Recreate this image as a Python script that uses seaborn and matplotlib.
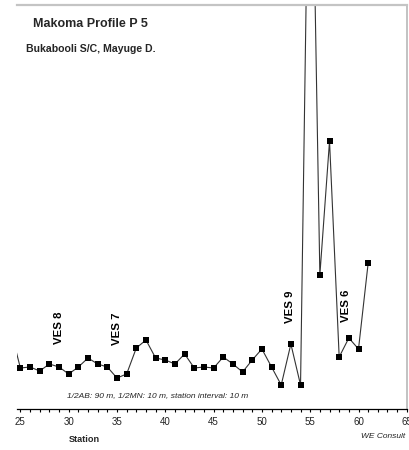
import numpy as np
import pandas as pd
import seaborn as sns
import matplotlib.pyplot as plt
from matplotlib.ticker import MultipleLocator

# apparent resistivity (arbitrary units)
stations = list(range(24, 62))
resistivity = [79, 41, 42, 38, 45, 42, 35, 42, 51, 45,
               42, 31, 35, 61, 69, 51, 49, 45, 55, 41,
               42, 41, 52, 45, 37, 49, 60, 42, 24, 65,
               24, 690, 134, 268, 52, 71, 60, 146]

ves_names = ['VES 8', 'VES 7', 'VES 9', 'VES 6']
ves_stations = [29.0, 35.0, 52.9, 58.7]

title = 'Makoma Profile P 5'
subtitle = 'Bukabooli S/C, Mayuge D.'
note = '1/2AB: 90 m, 1/2MN: 10 m, station interval: 10 m'

df = pd.DataFrame({'station': stations, 'rho': resistivity})

sns.set_style('white')
plt.rcParams['font.family'] = ['Liberation Sans', 'DejaVu Sans']

fig = plt.figure(figsize=(4.09, 4.5), dpi=100)
ax = fig.add_axes([17 / 409, 1 - 409 / 450, 390 / 409, 404 / 450])

sns.lineplot(data=df, x='station', y='rho', ax=ax, color='#333333', lw=0.8,
             marker='s', markersize=4.2, markerfacecolor='black',
             markeredgecolor='black', markeredgewidth=0)

ax.set_xlim(24.65, 65.02)
ax.set_ylim(0, 404)
ax.xaxis.set_major_locator(MultipleLocator(5))
ax.xaxis.set_minor_locator(MultipleLocator(1))
ax.set_yticks([])
ax.tick_params(axis='x', which='both', direction='out', bottom=True,
               length=2.5, width=0.8, color='black', labelsize=7,
               labelcolor='#222222', pad=3)
ax.set_xlabel('')
ax.set_ylabel('')

ax.spines['left'].set_visible(False)
ax.spines['bottom'].set_color('black')
ax.spines['bottom'].set_linewidth(0.9)
ax.spines['top'].set_color('#c4c4c4')
ax.spines['top'].set_linewidth(1.6)
ax.spines['right'].set_color('#b8b8b8')
ax.spines['right'].set_linewidth(1.2)

# VES markers along the profile
ves_bottoms = [65, 64, 86, 87]
for name, st, yb in zip(ves_names, ves_stations, ves_bottoms):
    ax.text(st, yb, name, rotation=90, ha='center', va='bottom',
            fontsize=8.2, fontweight='bold', color='black')

fig.text(33 / 409, 1 - 24 / 450, title, fontsize=9, fontweight='bold',
         ha='left', va='center')
fig.text(26 / 409, 1 - 49 / 450, subtitle, fontsize=7.6, fontweight='bold',
         ha='left', va='center')
fig.text(67 / 409, 1 - 396 / 450, note, fontsize=6, style='italic',
         ha='left', va='center', color='#222222')
fig.text(84 / 409, 1 - 440 / 450, 'Station', fontsize=6.6, fontweight='bold',
         ha='center', va='center')
fig.text(405 / 409, 1 - 437 / 450, 'WE Consult', fontsize=6, style='italic',
         ha='right', va='center', color='#222222')

fig.savefig('out.png', dpi=100)
